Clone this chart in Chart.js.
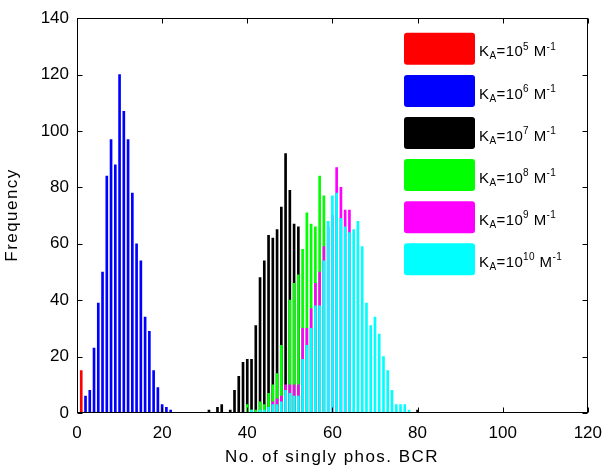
<!DOCTYPE html>
<html>
<head>
<meta charset="utf-8">
<script src="https://cdn.jsdelivr.net/npm/chart.js@4.4.1/dist/chart.umd.min.js"></script>
<style>
    html, body { margin: 0; padding: 0; background: #fff; }
</style>
</head>
<body>
<canvas id="hist" width="612" height="475"></canvas>
<script>
const xTicks = [0, 20, 40, 60, 80, 100, 120]
const yTicks = [0, 20, 40, 60, 80, 100, 120, 140]
const exponents = ['5', '6', '7', '8', '9', '10']
const colors = ['#ff0000', '#0000ff', '#000000', '#00ff00', '#ff00ff', '#00ffff']

const binsRed = [1]
const freqRed = [15]

const binsBlue = [2, 3, 4, 5, 6, 7, 8, 9, 10, 11, 12, 13, 14, 15, 16, 17, 18, 19, 20, 21, 22]
const freqBlue = [6, 8, 23, 39, 50, 84, 97, 88, 120, 107, 97, 78, 60, 54, 34, 29, 15, 9, 3, 2, 1]

const binsBlack = [31, 33, 34, 36, 37, 38, 39, 40, 41, 42, 43, 44, 45, 46, 47, 48, 49, 50, 51, 52, 80]
const freqBlack = [1, 2, 3, 1, 8, 13, 18, 19, 19, 31, 48, 54, 63, 62, 65, 73, 92, 79, 67, 66, 1]

const binsGreen = [40, 41, 42, 43, 44, 45, 46, 47, 48, 49, 50, 51, 52, 53, 54, 55, 56, 57, 58]
const freqGreen = [3, 1, 1, 4, 3, 7, 10, 14, 24, 8, 40, 46, 49, 58, 71, 67, 66, 84, 77]

const binsMagenta = [46, 47, 48, 49, 50, 51, 52, 53, 54, 55, 56, 57, 58, 59, 60, 61, 62, 63, 64]
const freqMagenta = [4, 5, 6, 10, 10, 10, 10, 30, 30, 37, 46, 50, 59, 66, 70, 87, 80, 72, 72]

const binsCyan = [41, 43, 44, 45, 46, 47, 48, 49, 50, 51, 52, 53, 54, 55, 56, 57, 58, 59, 60,
    61, 62, 63, 64, 65, 66, 67, 68, 69, 70, 71, 72, 73, 74, 75, 76, 77, 78]
const freqCyan = [1, 1, 1, 2, 3, 3, 4, 8, 7, 6, 6, 19, 24, 30, 38, 38, 54, 68, 77,
    78, 69, 66, 64, 65, 68, 59, 39, 31, 34, 28, 20, 15, 8, 3, 3, 3, 1]

const series = [
    [binsRed, freqRed],
    [binsBlue, freqBlue],
    [binsBlack, freqBlack],
    [binsGreen, freqGreen],
    [binsMagenta, freqMagenta],
    [binsCyan, freqCyan]
]

const FONT = "'Liberation Sans', Arial, sans-serif"

const toPoints = (bins, freq) => bins.map((b, i) => ({ x: b, y: freq[i] }))

// box, inward ticks, axis titles and the legend, drawn matlab style
const matlabFrame = {
    id: 'matlabFrame',
    afterDraw(chart) {
        const ctx = chart.ctx
        const { left, right, top, bottom } = chart.chartArea
        const xs = chart.scales.x
        const ys = chart.scales.y
        const L = Math.round(left) + 0.5, R = Math.round(right) - 0.5
        const T = Math.round(top) + 0.5, B = Math.round(bottom) - 0.5

        ctx.save()
        ctx.strokeStyle = '#000'
        ctx.lineWidth = 1
        ctx.strokeRect(L, T, R - L, B - T)
        ctx.beginPath()
        xTicks.forEach(v => {
            const px = Math.round(xs.getPixelForValue(v)) + 0.5
            ctx.moveTo(px, B); ctx.lineTo(px, B - 5)
            ctx.moveTo(px, T); ctx.lineTo(px, T + 5)
        })
        yTicks.forEach(v => {
            const py = Math.round(ys.getPixelForValue(v)) + 0.5
            ctx.moveTo(L, py); ctx.lineTo(L + 5, py)
            ctx.moveTo(R, py); ctx.lineTo(R - 5, py)
        })
        ctx.stroke()

        // axis titles
        ctx.fillStyle = '#000'
        ctx.font = '17px ' + FONT
        ctx.letterSpacing = '1.45px'
        ctx.textAlign = 'center'
        ctx.textBaseline = 'alphabetic'
        ctx.fillText('No. of singly phos. BCR', 332, 462)
        ctx.save()
        ctx.translate(17, 215)
        ctx.rotate(-Math.PI / 2)
        ctx.fillText('Frequency', 0, 0)
        ctx.restore()

        // legend
        ctx.textAlign = 'left'
        ctx.letterSpacing = '0.4px'
        exponents.forEach((e, i) => {
            const y0 = 32.8 + i * 42.1
            ctx.fillStyle = colors[i]
            ctx.beginPath()
            ctx.roundRect(404, y0, 71, 32, 3)
            ctx.fill()

            ctx.fillStyle = '#000'
            const base = y0 + 23.6
            let x = 479
            const put = (txt, size, dy) => {
                ctx.font = size + 'px ' + FONT
                ctx.fillText(txt, x, base + dy)
                x += ctx.measureText(txt).width
            }
            put('K', 15, 0)
            put('A', 10, 3)
            put('=10', 15, 0)
            put(e, 10, -6.5)
            put(' M', 15, 0)
            put('-1', 10, -6.5)
        })
        ctx.restore()
    }
}

new Chart(document.getElementById('hist'), {
    type: 'bar',
    data: {
        datasets: series.map(([bins, freq], i) => ({
            label: 'K_A=10^' + exponents[i] + ' M^-1',
            data: toPoints(bins, freq),
            backgroundColor: colors[i],
            borderWidth: 0,
            barThickness: 2,
            grouped: false,
            order: series.length - i
        }))
    },
    options: {
        responsive: false,
        animation: false,
        devicePixelRatio: 1,
        layout: { padding: { top: 12, right: 20, left: 0, bottom: 0 } },
        plugins: { legend: { display: false }, tooltip: { enabled: false } },
        scales: {
            x: {
                type: 'linear',
                min: 0,
                max: 120,
                offset: false,
                grid: { display: false, drawTicks: false },
                border: { display: false },
                ticks: { stepSize: 20, padding: 10, maxRotation: 0, color: '#000', font: { family: FONT, size: 17 } },
                afterFit: s => { s.height = 62 }
            },
            y: {
                min: 0,
                max: 140,
                grid: { display: false, drawTicks: false },
                border: { display: false },
                ticks: { stepSize: 20, padding: 8, color: '#000', font: { family: FONT, size: 17 } },
                afterFit: s => { s.width = 77 }
            }
        }
    },
    plugins: [matlabFrame]
})
</script>
</body>
</html>
